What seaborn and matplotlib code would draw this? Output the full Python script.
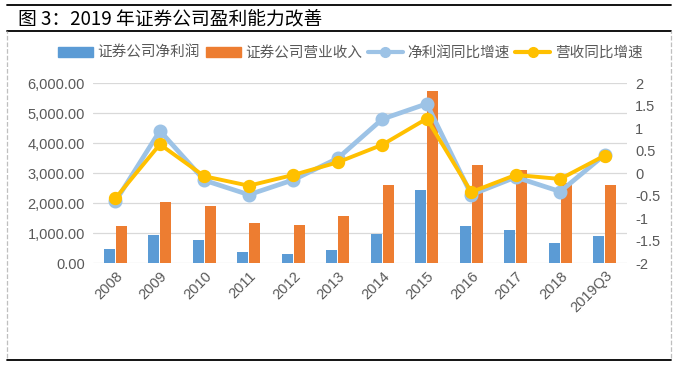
import numpy as np
import pandas as pd
import seaborn as sns
import matplotlib.pyplot as plt
from matplotlib.lines import Line2D
from matplotlib.patches import Patch
from matplotlib.ticker import FuncFormatter

# data
years = ['2008', '2009', '2010', '2011', '2012', '2013', '2014', '2015',
         '2016', '2017', '2018', '2019Q3']
net_profit = [480, 940, 780, 380, 320, 445, 975, 2445, 1240, 1110, 675, 910]
revenue = [1245, 2045, 1910, 1345, 1280, 1580, 2610, 5745, 3280, 3110, 2660, 2610]
profit_growth = [-0.63, 0.94, -0.16, -0.48, -0.15, 0.33, 1.20, 1.54, -0.48, -0.09, -0.41, 0.41]
revenue_growth = [-0.56, 0.64, -0.07, -0.28, -0.04, 0.24, 0.63, 1.21, -0.42, -0.04, -0.13, 0.39]

bar_names = ['证券公司净利润', '证券公司营业收入']
line_names = ['净利润同比增速', '营收同比增速']
bar_colors = ['#5B9BD5', '#ED7D31']
line_colors = ['#9DC3E6', '#FFC000']

sns.set_theme(style='white')
plt.rcParams['font.family'] = ['Liberation Sans', 'Noto Sans CJK SC', 'DejaVu Sans']

bars = pd.DataFrame({
    'year': years * 2,
    'value': net_profit + revenue,
    'series': [bar_names[0]] * len(years) + [bar_names[1]] * len(years),
})

fig = plt.figure(figsize=(6.8, 3.66), dpi=100)
ax = fig.add_axes([0.137, 0.281, 0.785, 0.492])

sns.barplot(data=bars, x='year', y='value', hue='series', order=years,
            palette=bar_colors, width=0.54, gap=0.1, ax=ax, legend=False,
            saturation=1, linewidth=0)
ax.set_ylim(0, 6000)
ax.set_yticks(np.arange(0, 6001, 1000))
ax.yaxis.set_major_formatter(FuncFormatter(lambda v, p: f'{v:,.2f}'))
ax.grid(axis='y', color='#D9D9D9', linewidth=0.9)
ax.set_axisbelow(True)
ax.set_xlabel('')
ax.set_ylabel('')
for s in ax.spines.values():
    s.set_visible(False)
ax.tick_params(axis='y', labelsize=10.5, colors='#595959', length=0, pad=6)
ax.tick_params(axis='x', labelsize=10.5, colors='#595959', length=0, pad=4)
plt.setp(ax.get_xticklabels(), rotation=45, ha='right', rotation_mode='anchor')

ax2 = ax.twinx()
sns.pointplot(x=years, y=profit_growth, color=line_colors[0], ax=ax2,
              markers='o', linewidth=3.4, markersize=7.5)
sns.pointplot(x=years, y=revenue_growth, color=line_colors[1], ax=ax2,
              markers='o', linewidth=2.8, markersize=7.5)
ax2.set_ylim(-2, 2)
ax2.set_yticks([2, 1.5, 1, 0.5, 0, -0.5, -1, -1.5, -2])
ax2.set_yticklabels(['2', '1.5', '1', '0.5', '0', '-0.5', '-1', '-1.5', '-2'])
ax2.tick_params(axis='y', labelsize=10.5, colors='#595959', length=0, pad=6)
ax2.set_ylabel('')
for s in ax2.spines.values():
    s.set_visible(False)
ax.set_xlim(-0.5, len(years) - 0.5)

handles = [
    Patch(color=bar_colors[0]), Patch(color=bar_colors[1]),
    Line2D([], [], color=line_colors[0], lw=3, marker='o', ms=7),
    Line2D([], [], color=line_colors[1], lw=3, marker='o', ms=7),
]
fig.legend(handles, bar_names + line_names, loc='center', ncol=4,
           bbox_to_anchor=(0.515, 0.855), frameon=False,
           labelcolor='#595959', handlelength=2.4, handleheight=0.6,
           handletextpad=0.3, columnspacing=0.4,
           prop={'family': ['Noto Sans CJK SC'], 'size': 10.5})

# title and frame
fig.text(0.027, 0.948, '图 3：2019 年证券公司盈利能力改善', fontsize=13.5,
         family=['Noto Sans CJK SC'], color='black', va='center', ha='left')
fig.add_artist(Line2D([0.011, 0.987], [0.986, 0.986], color='black', lw=1.3))
fig.add_artist(Line2D([0.011, 0.987], [0.915, 0.915], color='black', lw=1.3))
fig.add_artist(Line2D([0.011, 0.987], [0.016, 0.016], color='black', lw=1.3))
fig.add_artist(Line2D([0.011, 0.011], [0.022, 0.915], color='#BFBFBF', lw=0.9, ls='--'))
fig.add_artist(Line2D([0.987, 0.987], [0.022, 0.915], color='#BFBFBF', lw=0.9, ls='--'))

fig.savefig('out.png', dpi=100)
